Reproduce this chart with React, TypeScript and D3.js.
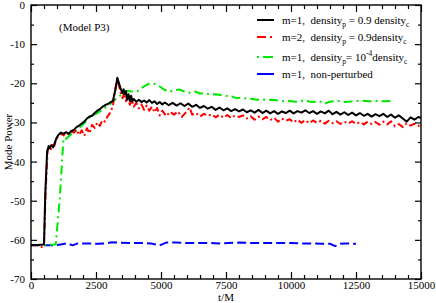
import React, { useEffect, useRef } from 'react';
import * as d3 from 'd3';

// data (t/M, mode power)
const blackT = [0, 250, 500, 550, 620, 680, 720, 780, 850, 900, 980, 1050, 1150, 1250, 1350, 1450, 1550, 1650, 1750, 1850, 1950, 2050, 2150, 2250, 2350, 2450, 2550, 2650, 2750, 2850, 2950, 3050, 3150, 3250, 3320, 3400, 3470, 3520, 3560, 3600, 3650, 3700, 3750, 3800, 3850, 3900, 3950, 4050, 4150, 4250, 4350, 4450, 4550, 4650, 4750, 4850, 4950, 5050, 5150, 5300, 5450, 5600, 5750, 5900, 6050, 6200, 6350, 6500, 6650, 6800, 6950, 7100, 7250, 7400, 7550, 7700, 7850, 8000, 8150, 8300, 8450, 8600, 8750, 8900, 9050, 9200, 9350, 9500, 9650, 9800, 9950, 10100, 10250, 10400, 10550, 10700, 10850, 11000, 11150, 11300, 11450, 11600, 11750, 11900, 12050, 12200, 12350, 12500, 12650, 12800, 12950, 13100, 13250, 13400, 13550, 13700, 13850, 14000, 14150, 14300, 14450, 14600, 14750, 14900, 15000];
const blackV = [-61.3, -61.3, -61.2, -48, -37.5, -36, -36.6, -35.8, -36.4, -35.5, -34, -33.2, -32.6, -32.9, -32.5, -32.9, -32.2, -31.9, -31.2, -30.8, -30.3, -29.8, -29.0, -28.5, -28.3, -27.6, -27.0, -26.6, -26.0, -25.6, -25.3, -24.9, -24.5, -21.5, -18.6, -20.3, -21.8, -22.5, -21.5, -22.8, -22.0, -24.2, -22.8, -24.5, -23.2, -24.6, -24.0, -24.7, -24.2, -24.8, -24.4, -24.9, -24.3, -25.0, -24.6, -25.3, -24.8, -25.4, -24.9, -25.6, -25.0, -25.7, -25.1, -25.8, -25.2, -26.0, -25.5, -26.3, -25.8, -26.5, -26.0, -26.8, -26.2, -26.9, -26.4, -27.1, -26.6, -27.2, -26.7, -27.4, -26.9, -27.5, -26.8, -27.6, -27.0, -27.7, -27.1, -27.8, -27.2, -27.6, -27.0, -27.7, -27.1, -27.5, -26.9, -27.6, -27.1, -27.8, -27.2, -27.7, -27.0, -27.9, -27.3, -28.0, -27.4, -28.1, -27.5, -28.2, -27.6, -28.3, -27.8, -28.5, -27.9, -28.4, -27.8, -28.6, -28.0, -28.8, -28.2, -29.0, -29.8, -28.7, -29.3, -28.6, -28.9];

const redT = [0, 300, 420, 500, 560, 640, 700, 760, 830, 900, 960, 1050, 1150, 1250, 1350, 1450, 1550, 1650, 1750, 1850, 1950, 2050, 2150, 2250, 2350, 2450, 2550, 2650, 2750, 2850, 2950, 3050, 3150, 3230, 3310, 3380, 3450, 3520, 3580, 3650, 3720, 3800, 3870, 3950, 4050, 4150, 4250, 4350, 4450, 4550, 4650, 4750, 4850, 4950, 5050, 5200, 5350, 5500, 5650, 5800, 5950, 6100, 6200, 6350, 6500, 6650, 6800, 6950, 7100, 7250, 7400, 7550, 7700, 7850, 8000, 8150, 8300, 8450, 8600, 8750, 8900, 9050, 9200, 9350, 9500, 9650, 9800, 9950, 10100, 10250, 10400, 10550, 10700, 10850, 11000, 11150, 11300, 11450, 11600, 11750, 11900, 12050, 12200, 12350, 12500, 12650, 12800, 12950, 13100, 13250, 13400, 13550, 13700, 13850, 14000, 14150, 14300, 14450, 14600, 14750, 14900, 15000];
const redV = [-61.4, -61.4, -61.8, -61.5, -48, -37, -36.2, -36.8, -35.8, -36.0, -34.5, -33.5, -32.8, -33.3, -32.7, -33.0, -32.2, -32.6, -31.8, -33.2, -32.0, -33.4, -31.5, -32.8, -30.6, -31.4, -30.0, -30.9, -29.4, -29.8, -28.4, -27.5, -25.8, -22.0, -18.9, -20.5, -22.5, -23.8, -22.4, -24.6, -23.0, -25.5, -24.2, -26.0, -25.0, -26.4, -25.4, -26.8, -25.7, -27.0, -26.0, -27.4, -26.3, -28.2, -27.0, -28.4, -27.3, -28.0, -27.2, -28.6, -27.5, -26.2, -28.0, -27.6, -28.5, -27.8, -28.3, -27.9, -28.7, -28.0, -28.8, -28.1, -28.9, -28.2, -28.6, -28.2, -29.0, -28.4, -29.3, -28.5, -29.2, -28.6, -29.4, -28.8, -29.8, -29.0, -29.6, -29.2, -30.0, -29.3, -30.1, -29.4, -30.2, -29.5, -30.1, -29.6, -30.3, -29.6, -30.2, -29.7, -30.4, -29.8, -30.3, -29.7, -30.4, -29.9, -30.5, -29.8, -30.4, -29.9, -30.6, -29.8, -30.5, -29.7, -31.0, -30.4, -31.2, -30.2, -30.8, -30.3, -30.9, -30.6];

const greenT = [0, 500, 950, 1100, 1250, 1350, 1450, 1550, 1700, 1850, 2000, 2150, 2300, 2500, 2700, 2900, 3100, 3300, 3500, 3700, 3900, 4100, 4300, 4500, 4700, 4900, 5100, 5300, 5500, 5700, 5900, 6100, 6300, 6500, 6700, 6900, 7100, 7300, 7500, 7700, 7900, 8100, 8300, 8500, 8700, 8900, 9100, 9300, 9500, 9700, 9900, 10200, 10500, 10800, 11100, 11300, 11500, 11800, 12100, 12400, 12700, 13000, 13300, 13600, 13900];
const greenV = [-61.3, -61.3, -61.2, -50, -34, -34.2, -33.6, -33.0, -32.5, -31.4, -30.5, -29.5, -28.4, -27.8, -27.0, -26.0, -25.0, -23.8, -22.8, -22.0, -22.1, -22.0, -21.0, -20.2, -20.0, -20.6, -21.5, -22.2, -21.8, -21.6, -22.1, -22.4, -22.1, -22.6, -22.5, -22.9, -22.8, -23.0, -23.2, -23.3, -23.8, -23.7, -23.9, -24.0, -24.2, -24.1, -24.3, -24.2, -24.4, -24.6, -24.5, -24.7, -24.4, -24.8, -24.6, -25.2, -24.7, -24.5, -24.8, -24.6, -24.4, -24.6, -24.5, -24.6, -24.5];

const blueT = [0, 500, 900, 1200, 1400, 1600, 1800, 2200, 2600, 2900, 3100, 3400, 3800, 4200, 4600, 4950, 5200, 5600, 6000, 6400, 6800, 7200, 7600, 8000, 8400, 8800, 9200, 9600, 10000, 10400, 10800, 11200, 11500, 11700, 11900, 12100, 12500];
const blueV = [-61.4, -61.4, -61.4, -61.1, -60.9, -61.4, -60.9, -60.9, -61.0, -60.9, -60.6, -60.7, -60.8, -60.8, -60.9, -61.4, -60.7, -60.7, -60.8, -60.8, -60.8, -60.9, -60.8, -60.7, -60.8, -60.8, -60.8, -60.8, -60.8, -60.9, -60.9, -61.0, -61.0, -61.6, -61.0, -60.9, -61.0];

const xMajor = [0, 2500, 5000, 7500, 10000, 12500, 15000];
const yMajor = [0, -10, -20, -30, -40, -50, -60, -70];

interface Series {
   t: number[];
   v: number[];
   color: string;
   dash: string | null;
}

const App: React.FC = () => {
   const svgRef = useRef<SVGSVGElement | null>(null);
   const width = 436;
   const height = 303;

   useEffect(() => {
      if (!svgRef.current) return;
      const svg = d3.select(svgRef.current);
      svg.selectAll('*').remove();

      const margin = { top: 5, right: 15, bottom: 24, left: 31 };
      const innerWidth = width - margin.left - margin.right;
      const innerHeight = height - margin.top - margin.bottom;
      const font = 'Liberation Serif';

      const x = d3.scaleLinear().domain([0, 15000]).range([0, innerWidth]);
      const y = d3.scaleLinear().domain([-70, 0]).range([innerHeight, 0]);

      const g = svg.append('g').attr('transform', `translate(${margin.left},${margin.top})`);

      svg.append('defs').append('clipPath').attr('id', 'plot-clip')
         .append('rect').attr('width', innerWidth).attr('height', innerHeight);

      const series: Series[] = [
         { t: blueT, v: blueV, color: '#0000ff', dash: '9,4' },
         { t: greenT, v: greenV, color: '#00e600', dash: '9,4,2,4' },
         { t: redT, v: redV, color: '#ff0000', dash: '7,3,2,3' },
         { t: blackT, v: blackV, color: '#000000', dash: null },
      ];

      const line = d3.line<[number, number]>()
         .x(d => x(d[0]))
         .y(d => y(d[1]));

      const plot = g.append('g').attr('clip-path', 'url(#plot-clip)');
      series.forEach(s => {
         const pts = s.t.map((t, i) => [t, s.v[i]] as [number, number]);
         plot.append('path')
            .attr('d', line(pts))
            .attr('fill', 'none')
            .attr('stroke', s.color)
            .attr('stroke-width', 2)
            .attr('stroke-linejoin', 'round')
            .attr('stroke-dasharray', s.dash ?? null);
      });

      // axes, ticks pointing inwards on all four sides
      const fmt = (d: d3.NumberValue) => String(d);
      const xMinor = d3.range(0, 15001, 500).filter(v => !xMajor.includes(v));
      const yMinor = d3.range(-65, 0, 10);

      const styleAxis = (sel: d3.Selection<SVGGElement, unknown, null, undefined>) => {
         sel.select('.domain').remove();
         sel.selectAll('line').attr('stroke', '#000').attr('stroke-width', 1.2);
         sel.selectAll('text').attr('font-family', font).attr('font-size', 11).attr('fill', '#000');
      };

      g.append('g').attr('transform', `translate(0,${innerHeight})`)
         .call(d3.axisBottom(x).tickValues(xMajor).tickSize(-7).tickPadding(2).tickFormat(fmt))
         .call(styleAxis);
      g.append('g').attr('transform', `translate(0,${innerHeight})`)
         .call(d3.axisBottom(x).tickValues(xMinor).tickSize(-4).tickFormat(() => ''))
         .call(styleAxis);
      g.append('g')
         .call(d3.axisTop(x).tickValues(xMajor).tickSize(-7).tickFormat(() => ''))
         .call(styleAxis);
      g.append('g')
         .call(d3.axisTop(x).tickValues(xMinor).tickSize(-4).tickFormat(() => ''))
         .call(styleAxis);
      g.append('g')
         .call(d3.axisLeft(y).tickValues(yMajor).tickSize(-6).tickPadding(6).tickFormat(fmt))
         .call(styleAxis);
      g.append('g')
         .call(d3.axisLeft(y).tickValues(yMinor).tickSize(-3).tickFormat(() => ''))
         .call(styleAxis);
      g.append('g').attr('transform', `translate(${innerWidth},0)`)
         .call(d3.axisRight(y).tickValues(yMajor).tickSize(-6).tickFormat(() => ''))
         .call(styleAxis);
      g.append('g').attr('transform', `translate(${innerWidth},0)`)
         .call(d3.axisRight(y).tickValues(yMinor).tickSize(-3).tickFormat(() => ''))
         .call(styleAxis);

      g.append('rect')
         .attr('width', innerWidth)
         .attr('height', innerHeight)
         .attr('fill', 'none')
         .attr('stroke', '#000')
         .attr('stroke-width', 1.4);

      // axis titles
      svg.append('text')
         .attr('x', margin.left + innerWidth / 2)
         .attr('y', 301)
         .attr('text-anchor', 'middle')
         .attr('font-family', font)
         .attr('font-size', 11)
         .text('t/M');

      svg.append('text')
         .attr('transform', `translate(12,${margin.top + innerHeight / 2}) rotate(-90)`)
         .attr('text-anchor', 'middle')
         .attr('font-family', font)
         .attr('font-size', 11)
         .text('Mode Power');

      svg.append('text')
         .attr('x', 59)
         .attr('y', 31)
         .attr('font-family', font)
         .attr('font-size', 11)
         .text('(Model P3)');

      // legend
      const legendRows = [
         { color: '#000000', dash: null, ly: 20, parts: [['m=1,  density', 0], ['p', 1], [' = 0.9 density', 0], ['c', 1]] },
         { color: '#ff0000', dash: '9,4,2,4', ly: 37, parts: [['m=2,  density', 0], ['p', 1], [' = 0.9density', 0], ['c', 1]] },
         { color: '#00e600', dash: '2,4,10,4', ly: 57, parts: [['m=1,  density', 0], ['p', 1], ['= 10', 0], ['-4', 2], ['density', 0], ['c', 1]] },
         { color: '#0000ff', dash: null, ly: 74, parts: [['m=1,  non-perturbed', 0]] },
      ];

      const legend = svg.append('g');
      legendRows.forEach(row => {
         legend.append('line')
            .attr('x1', 257).attr('x2', 274)
            .attr('y1', row.ly).attr('y2', row.ly)
            .attr('stroke', row.color)
            .attr('stroke-width', 2)
            .attr('stroke-dasharray', row.dash ?? null);
         const text = legend.append('text')
            .attr('x', 282)
            .attr('y', row.ly + 3.5)
            .attr('font-family', font)
            .attr('font-size', 11)
            .style('white-space', 'pre');
         let shift = 0;
         row.parts.forEach(([s, kind]) => {
            const target = kind === 1 ? 3 : kind === 2 ? -5 : 0;
            text.append('tspan')
               .attr('dy', target - shift)
               .attr('font-size', kind === 0 ? 11 : 7.5)
               .text(s as string);
            shift = target;
         });
      });
   }, []);

   return (
      <div style={{ position: 'absolute', left: 0, top: 0, width, height, background: '#fff' }}>
         <svg ref={svgRef} width={width} height={height} viewBox={`0 0 ${width} ${height}`} />
      </div>
   );
};

export default App;
